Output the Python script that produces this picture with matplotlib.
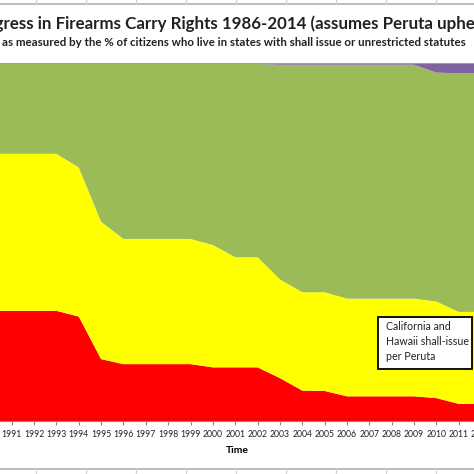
import matplotlib
matplotlib.use('Agg')
import matplotlib.pyplot as plt
from matplotlib.lines import Line2D
from matplotlib.patches import Rectangle

plt.rcParams['font.family'] = ['Lato', 'DejaVu Sans']

years = list(range(1990, 2013))
# % of population (stack order bottom -> top)
no_issue = [30.8, 30.8, 30.8, 30.8, 29.2, 17.3, 15.9, 15.9, 15.9, 15.9, 15.0, 15.0,
            15.0, 12.0, 8.5, 8.4, 6.9, 6.9, 6.9, 6.9, 6.4, 4.8, 4.8]
may_issue = [43.9, 43.9, 43.9, 43.9, 41.7, 38.4, 35.0, 35.0, 35.0, 35.0, 34.2, 30.8,
             30.8, 27.6, 27.5, 27.6, 27.3, 27.3, 27.3, 27.3, 27.0, 25.7, 25.7]
shall_issue = [25.1, 25.1, 25.1, 25.1, 28.9, 44.1, 48.9, 48.9, 48.9, 48.9, 50.6, 54.0,
               54.0, 60.0, 63.6, 63.6, 65.4, 65.4, 65.4, 65.4, 64.0, 66.7, 66.7]
unrestricted = [0.2, 0.2, 0.2, 0.2, 0.2, 0.2, 0.2, 0.2, 0.2, 0.2, 0.2, 0.2,
                0.2, 0.4, 0.4, 0.4, 0.4, 0.4, 0.4, 0.4, 2.6, 2.8, 2.8]
colors = ['#ff0000', '#ffff00', '#9bbb59', '#8064a2']

title = 'Progress in Firearms Carry Rights 1986-2014 (assumes Peruta upheld)'
subtitle = 'as measured by the % of citizens who live in states with shall issue or unrestricted statutes'
note = 'California and\nHawaii shall-issue\nper Peruta'

W = H = 474.0
fig = plt.figure(figsize=(4.74, 4.74), dpi=100)


def fx(px):
    return px / W


def fy(py):
    return 1 - py / H


ax = fig.add_axes([0, fy(421), 1, fy(63.3) - fy(421)])
ax.stackplot(years, no_issue, may_issue, shall_issue, unrestricted,
             colors=colors, linewidth=0)
ax.set_yticks([])
ax.set_xticks(years)
# first year label does not fit in the view, excel drops it
ax.set_xticklabels([''] + [str(y) for y in years[1:]])
# limits after the ticks, set_xticks would widen them
ax.set_xlim(1990.476, 2011.685)
ax.set_ylim(0, 100)
for s in ['left', 'right', 'top']:
    ax.spines[s].set_visible(False)
ax.spines['bottom'].set_color('#8c8c8c')
ax.tick_params(axis='x', length=3, color='#8c8c8c', labelsize=6.2, pad=3.5,
               labelcolor='#222222')
ax.set_xlabel('Time', fontweight='bold', fontsize=7.5, labelpad=5)

# last year label sits just past the right edge, only its first digit shows
ax.annotate(str(years[-1]), xy=(years[-1], 0), xycoords=ax.get_xaxis_transform(),
            xytext=(0, -6.5), textcoords='offset points', ha='center', va='top',
            fontsize=6.2, color='#222222', annotation_clip=False)

fig.text(fx(231), fy(24), title, ha='center', va='center',
         fontsize=12.2, fontweight='bold', color='#222222')
fig.text(fx(234), fy(43), subtitle, ha='center', va='center',
         fontsize=8.3, fontweight='bold', color='#222222')

# annotation box
fig.add_artist(Rectangle((fx(378.3), fy(369.3)), fx(471.7) - fx(378.3),
                         fy(316.7) - fy(369.3), transform=fig.transFigure,
                         facecolor='white', edgecolor='black', linewidth=1.3))
fig.text(fx(386), fy(321), note, ha='left', va='top', fontsize=7.7,
         linespacing=1.45, color='#222222')

# sheet gridlines / chart border around the crop
for yb in [4, 469]:
    fig.add_artist(Line2D([0, 1], [fy(yb), fy(yb)], color='#b0b0b0', lw=1.2))
for xg in range(36, 474, 50):
    fig.add_artist(Line2D([fx(xg), fx(xg)], [fy(0), fy(4)], color='#d4d4d4', lw=1))
    fig.add_artist(Line2D([fx(xg), fx(xg)], [fy(469), fy(474)], color='#d4d4d4', lw=1))

fig.savefig('out.png', dpi=100)
